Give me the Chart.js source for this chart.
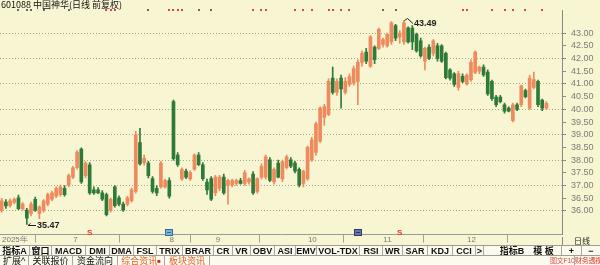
<!DOCTYPE html>
<html><head><meta charset="utf-8">
<script src="https://cdn.jsdelivr.net/npm/chart.js@4.4.1/dist/chart.umd.min.js"></script>
<style>
html,body{margin:0;padding:0;}
body{width:600px;height:265px;overflow:hidden;background:#F7F5D2;}
#wrap{position:relative;width:600px;height:265px;background:#F7F5D2;overflow:hidden;}
#c{position:absolute;left:0;top:0;}
#title{position:absolute;left:1px;top:-1px;font:9px/11px "Noto Sans CJK SC","Liberation Sans",sans-serif;color:#111;white-space:nowrap;}
.row{position:absolute;left:0;width:600px;height:10px;border-top:1px solid #9c9c9c;background:#FBFAEC;}
.b{position:absolute;top:0;height:10px;font:bold 9px/10px "Liberation Sans","Noto Sans CJK SC",sans-serif;color:#111;text-align:center;border-right:1px solid #a8a8a8;white-space:nowrap;overflow:hidden;}
.o{color:#E0622A;font-weight:normal;}
.s{font-size:7px;letter-spacing:-0.3px;}
#dayk{position:absolute;left:562px;top:237px;width:38px;height:8px;border-left:1px solid #8a8a8a;font:8px/8px "Noto Sans CJK SC",sans-serif;color:#222;text-align:center;}
</style>
</head><body>
<div id="wrap">
<canvas id="c" width="600" height="245"></canvas>
<div id="title">601088 中国神华(日线 前复权)</div>
<div id="dayk">日线</div>
<div class="row" style="top:245px">
<span class="b" style="left:0;width:29px">指标A</span>
<span class="b" style="left:30px;width:21px">窗口</span>
<span class="b" style="left:52px;width:33px">MACD</span>
<span class="b" style="left:86px;width:23px">DMI</span>
<span class="b" style="left:110px;width:23px">DMA</span>
<span class="b" style="left:134px;width:22px">FSL</span>
<span class="b" style="left:157px;width:25px">TRIX</span>
<span class="b" style="left:183px;width:30px">BRAR</span>
<span class="b" style="left:214px;width:18px">CR</span>
<span class="b" style="left:233px;width:17px">VR</span>
<span class="b" style="left:251px;width:23px">OBV</span>
<span class="b" style="left:275px;width:20px">ASI</span>
<span class="b" style="left:296px;width:20px">EMV</span>
<span class="b" style="left:317px;width:42px">VOL-TDX</span>
<span class="b" style="left:360px;width:22px">RSI</span>
<span class="b" style="left:383px;width:19px">WR</span>
<span class="b" style="left:403px;width:24px">SAR</span>
<span class="b" style="left:428px;width:24px">KDJ</span>
<span class="b" style="left:453px;width:22px">CCI</span>
<span class="b" style="left:476px;width:7px">&gt;</span>
<span class="b" style="left:498px;width:28px;border-right:none">指标B</span>
<span class="b" style="left:526px;width:35px">模 板</span>
<span class="b" style="left:562px;width:19px">+</span>
<span class="b" style="left:582px;width:18px;border-right:none">−</span>
</div>
<div class="row" style="top:255px">
<span class="b" style="left:0;width:28px;font-weight:normal">扩展^</span>
<span class="b" style="left:29px;width:43px;font-weight:normal">关联报价</span>
<span class="b" style="left:73px;width:44px;font-weight:normal">资金流向</span>
<span class="b o" style="left:118px;width:46px">综合资讯<span style="color:#E02020;font-size:6px;vertical-align:top">■</span></span>
<span class="b o" style="left:165px;width:44px">板块资讯</span>
<span class="b o s" style="left:550px;width:24px;color:#E05050;">图文F10</span>
<span class="b o s" style="left:575px;width:25px;color:#E03030;border-right:none">财务透视</span>
</div>
</div>
<script>
// ---- data ----
const opens  = [36.03,36.35,36.21,36.34,36.52,36.09,36.03,35.90,36.46,35.90,36.03,36.27,36.46,36.58,36.64,36.89,37.02,37.33,37.70,38.44,37.39,37.82,36.83,36.83,36.71,36.64,36.03,36.95,36.52,36.27,36.27,36.40,36.77,38.69,37.90,37.88,37.27,36.89,36.95,36.95,37.20,40.30,38.20,37.26,37.57,37.26,37.64,38.20,37.82,37.14,37.27,36.71,36.89,37.33,37.00,37.02,37.08,37.20,37.08,37.14,37.45,36.77,37.33,37.33,38.01,37.14,37.88,37.26,37.70,38.01,37.88,37.64,37.08,37.26,38.01,38.30,38.75,39.68,39.80,41.23,40.67,41.23,40.67,40.98,41.04,41.10,41.85,42.25,41.70,42.45,42.40,42.55,42.50,42.65,43.30,42.85,42.65,43.21,43.20,42.95,42.70,41.90,42.45,42.20,42.50,42.50,42.20,41.55,41.40,40.86,41.30,41.00,41.17,41.45,41.50,41.66,41.47,41.10,40.48,40.48,40.18,40.05,39.55,40.18,40.18,40.74,40.05,40.86,41.10,40.36,40.05];
const highs  = [36.50,36.45,36.48,36.52,36.62,36.33,36.10,36.35,36.55,36.20,36.45,36.70,36.78,36.95,37.02,37.00,37.45,37.76,38.38,38.48,37.94,37.90,36.95,36.92,36.80,36.70,36.52,37.00,36.60,36.35,36.58,36.90,39.13,39.25,38.20,37.95,37.35,37.00,37.95,37.25,37.30,40.36,38.30,37.70,37.65,37.58,38.25,38.30,37.90,37.25,37.35,37.40,37.40,37.45,37.25,37.25,37.25,37.28,37.60,37.30,37.55,37.30,37.85,38.20,38.10,37.70,38.00,38.00,38.20,38.10,37.95,37.70,37.60,38.55,38.90,39.50,40.10,40.20,41.20,41.66,41.20,41.35,41.25,41.40,41.70,41.95,42.30,42.40,42.90,42.50,43.20,42.80,43.00,43.45,43.35,43.10,43.49,43.25,43.30,43.00,42.80,42.45,42.55,42.75,42.60,42.55,42.25,41.60,41.45,41.50,41.40,41.40,41.95,42.30,41.70,41.75,41.55,41.15,40.55,40.55,40.25,40.10,40.25,40.25,40.95,40.80,41.35,41.47,41.15,40.40,40.30];
const lows   = [35.95,36.10,36.15,36.28,36.05,36.02,35.47,35.80,35.98,35.70,35.95,36.20,36.40,36.52,36.58,36.58,36.95,37.27,37.64,37.08,37.30,36.65,36.65,36.68,36.40,35.80,35.95,36.15,36.20,35.98,36.20,36.35,36.70,37.80,37.80,37.30,36.70,36.60,36.90,36.90,36.50,38.00,37.75,37.20,37.27,37.20,37.60,37.78,37.20,36.65,36.40,36.60,36.80,36.65,36.27,36.95,37.00,37.05,37.00,37.05,36.65,36.70,37.25,37.25,37.15,37.05,37.30,37.15,37.65,37.70,37.50,36.95,36.95,37.20,37.95,38.20,38.70,39.37,39.75,40.60,40.55,40.05,40.60,40.90,40.95,40.18,41.70,41.80,41.65,41.80,42.35,42.45,42.45,42.55,42.70,42.60,42.55,42.60,42.35,42.25,42.05,41.55,41.95,42.10,41.90,41.85,41.20,41.15,40.90,40.75,41.05,40.95,41.10,41.40,41.40,41.30,40.55,40.35,40.10,40.25,39.85,39.90,39.50,39.95,40.10,40.45,40.00,40.80,40.10,39.95,40.00];
const closes = [36.40,36.20,36.40,36.46,36.09,36.27,35.72,36.27,36.03,36.15,36.40,36.64,36.71,36.89,36.95,36.64,37.39,37.70,38.32,37.14,37.88,36.71,36.71,36.71,36.46,35.85,36.46,36.21,36.27,36.03,36.52,36.83,39.00,37.85,38.07,37.39,36.77,36.71,37.88,37.20,36.58,38.06,37.82,37.64,37.33,37.51,38.20,37.82,37.27,36.83,36.46,37.33,37.33,36.71,37.20,37.20,37.20,37.08,37.51,37.26,36.71,37.27,37.76,38.13,37.20,37.64,37.33,37.94,38.13,37.76,37.57,37.02,37.57,38.50,38.80,39.43,40.05,40.11,41.10,40.67,41.10,40.80,41.10,41.29,41.60,41.85,42.20,41.90,42.85,41.95,43.15,42.75,42.95,43.40,42.80,43.00,43.40,42.65,42.65,42.30,42.10,42.40,42.00,42.70,42.00,41.90,41.25,41.23,40.98,41.41,41.10,41.35,41.85,42.25,41.66,41.35,40.61,40.42,40.18,40.30,39.93,39.93,40.18,40.00,40.92,40.50,41.23,41.17,40.18,40.05,40.24];
const priceTicks = [36.00,36.50,37.00,37.50,38.00,38.50,39.00,39.50,40.00,40.50,41.00,41.50,42.00,42.50,43.00];
const monthLabels = ['2025年','7','8','9','10','11','12'];
const monthStartIndex = [0,17,40,51,73,91,111];
const infoDotsGray = [4,6,7,10,16,35,47,50,91,94];
const infoDotsRed = [25,26,27,40,41,42,43,60,62,63,70,72,74,78,79,81,83,110,111,117,120,122,125,129];
const sMarkIndex = [21,95];
const noteMarkIndex = [40,85];

// ---- layout helpers (geometry only) ----
const STEP = 4.19, X0 = 1.7, PLOT_W = 562, PLOT_H = 237;
const xMin = -X0 / STEP, xMax = xMin + PLOT_W / STEP;
const PPU = 188 / 7;
const yMax = 43 + 24 / PPU, yMin = 43 - (PLOT_H - 24) / PPU;
const UP = '#EE8A5E', DN = '#2E7B38';

const colors = closes.map((c, i) => c >= opens[i] ? UP : DN);
const wickData = highs.map((h, i) => ({x: i, y: [lows[i], h]}));
const bodyData = opens.map((o, i) => ({x: i, y: [Math.min(o, closes[i]), Math.max(o, closes[i])]}));

const marks = {
  id: 'marks',
  afterDatasetsDraw(chart) {
    const {ctx, scales: {x, y}} = chart;
    ctx.save();
    ctx.fillStyle = '#666';
    infoDotsGray.forEach(i => ctx.fillRect(Math.round(x.getPixelForValue(i)) - 1, 9, 2, 2));
    ctx.fillStyle = '#D8406A';
    infoDotsRed.forEach(i => ctx.fillRect(Math.round(x.getPixelForValue(i)) - 1, 9, 2, 2));
    let hi = 0, lo = 0;
    highs.forEach((h, i) => { if (h > highs[hi]) hi = i; });
    lows.forEach((l, i) => { if (l < lows[lo]) lo = i; });
    ctx.strokeStyle = '#222'; ctx.fillStyle = '#222'; ctx.lineWidth = 1;
    ctx.font = 'bold 9px "Liberation Sans", sans-serif';
    ctx.textBaseline = 'middle'; ctx.textAlign = 'left';
    let px = Math.round(x.getPixelForValue(hi)), py = Math.round(y.getPixelForValue(highs[hi]));
    ctx.beginPath(); ctx.moveTo(px + 0.5, py - 0.5); ctx.lineTo(px + 3.5, py - 2.5); ctx.lineTo(px + 9, py + 2.5); ctx.stroke();
    ctx.fillText(highs[hi].toFixed(2), px + 10, py + 3);
    px = Math.round(x.getPixelForValue(lo)); py = Math.round(y.getPixelForValue(lows[lo]));
    ctx.beginPath(); ctx.moveTo(px + 1, py + 1.5); ctx.lineTo(px + 9, py + 1.5); ctx.stroke();
    ctx.beginPath(); ctx.moveTo(px + 1, py + 1.5); ctx.lineTo(px + 3.5, py - 0.5); ctx.stroke();
    ctx.fillText(lows[lo].toFixed(2), px + 10, py + 2);
    ctx.fillStyle = '#E03A2A'; ctx.font = 'bold 8px "Liberation Sans", sans-serif'; ctx.textAlign = 'center';
    sMarkIndex.forEach(i => ctx.fillText('S', x.getPixelForValue(i), 233));
    noteMarkIndex.forEach((i, k) => {
      const cx = Math.round(x.getPixelForValue(i));
      ctx.fillStyle = k === 0 ? '#7FB2D8' : '#6A78A8';
      ctx.fillRect(cx - 4, 229, 8, 7);
      ctx.strokeStyle = k === 0 ? '#2E6E9E' : '#2E3A6E';
      ctx.strokeRect(cx - 3.5, 229.5, 7, 6);
      ctx.beginPath(); ctx.moveTo(cx - 2, 232.5); ctx.lineTo(cx + 2, 232.5); ctx.stroke();
    });
    ctx.restore();
  }
};

new Chart(document.getElementById('c').getContext('2d'), {
  type: 'bar',
  data: {datasets: [
    {data: wickData, backgroundColor: colors, barThickness: 1, grouped: false, order: 2},
    {data: bodyData, backgroundColor: colors, barThickness: 3, grouped: false, minBarLength: 1, order: 1}
  ]},
  options: {
    responsive: false, animation: false, devicePixelRatio: 1,
    layout: {padding: 0},
    plugins: {legend: {display: false}, tooltip: {enabled: false}},
    scales: {
      x: {
        type: 'linear', position: 'bottom', min: xMin, max: xMax, offset: false,
        afterBuildTicks: s => { s.ticks = monthStartIndex.map((v, k) => ({value: k === 0 ? xMin : v - 0.4})); },
        afterFit: s => { s.height = 8; },
        grid: {drawOnChartArea: false, drawTicks: true, tickLength: 8,
               tickColor: c => c.index === 0 ? 'rgba(0,0,0,0)' : '#a0a0a0'},
        border: {display: true, color: '#9a9a9a'},
        ticks: {autoSkip: false, maxRotation: 0, minRotation: 0, align: 'start', padding: -8, labelOffset: 2,
                color: '#7a7a7a', font: {size: 8, family: '"Liberation Sans", sans-serif'},
                callback: (v, i) => monthLabels[i]}
      },
      y: {
        type: 'linear', position: 'right', min: yMin, max: yMax,
        afterBuildTicks: s => { s.ticks = priceTicks.map(v => ({value: v})); },
        afterFit: s => { s.width = 38; },
        grid: {color: c => (c.tick && Math.abs(c.tick.value - Math.round(c.tick.value)) < 1e-6) ? '#ABA78C' : 'rgba(0,0,0,0)',
               tickColor: '#8a8a8a', tickLength: 4, drawTicks: true},
        border: {display: true, color: '#8a8a8a', dash: [1, 2]},
        ticks: {padding: 5, color: '#7c7c7c', font: {size: 9, family: '"Liberation Sans", sans-serif'},
                callback: v => Number(v).toFixed(2)}
      }
    }
  },
  plugins: [marks]
});
</script>
</body></html>
